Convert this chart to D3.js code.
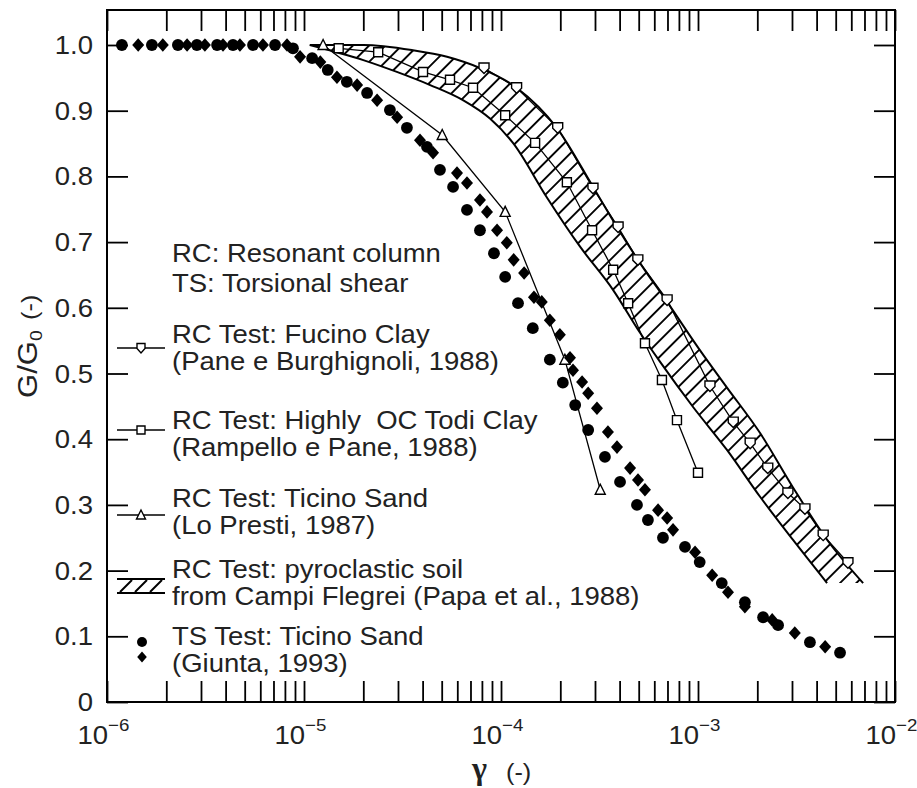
<!DOCTYPE html>
<html><head><meta charset="utf-8">
<script src="https://cdn.jsdelivr.net/npm/d3@7"></script>
<style>body{margin:0;background:#fff}svg{display:block}</style>
</head><body><div id="chart"></div>
<script>
// ---------- data ----------
const yTickValues = [0,0.1,0.2,0.3,0.4,0.5,0.6,0.7,0.8,0.9,1.0];
const yTickLabels = ["0","0.1","0.2","0.3","0.4","0.5","0.6","0.7","0.8","0.9","1.0"];
const xDecadeValues = [1e-6,1e-5,1e-4,1e-3,1e-2];
const xDecadeExponents = ["\u22126","\u22125","\u22124","\u22123","\u22122"];

// hatched band: RC pyroclastic soil (Campi Flegrei)
const bandUpper = [[1.07e-5,1.0],[2.0e-5,1.0],[3.57e-5,0.992],[5.32e-5,0.982],[7.8e-5,0.965],[1.2e-4,0.935],[1.92e-4,0.874],[2.96e-4,0.782],[3.88e-4,0.723],[5.08e-4,0.668],[6.97e-4,0.609],[1.02e-3,0.536],[1.40e-3,0.479],[2.07e-3,0.409],[3.03e-3,0.327],[4.52e-3,0.247],[6.89e-3,0.181]];
const bandLower = [[1.07e-5,1.0],[2.0e-5,0.977],[2.96e-5,0.959],[4.37e-5,0.939],[6.41e-5,0.916],[8.79e-5,0.888],[1.15e-4,0.851],[1.71e-4,0.768],[2.52e-4,0.693],[3.71e-4,0.627],[5.08e-4,0.562],[6.41e-4,0.518],[9.44e-4,0.449],[1.40e-3,0.384],[2.07e-3,0.312],[3.03e-3,0.247],[4.52e-3,0.181]];

// RC Fucino Clay
const fucino = [[8.2e-5,0.965],[1.2e-4,0.935],[1.94e-4,0.874],[2.93e-4,0.782],[3.93e-4,0.723],[4.95e-4,0.673],[6.97e-4,0.612],[1.15e-3,0.481],[1.51e-3,0.426],[1.84e-3,0.394],[2.26e-3,0.356],[2.86e-3,0.318],[3.49e-3,0.294],[4.32e-3,0.254],[5.77e-3,0.212]];
// RC Highly OC Todi Clay
const todi = [[1.5e-5,0.995],[2.38e-5,0.989],[4.02e-5,0.959],[5.51e-5,0.947],[7.21e-5,0.935],[1.05e-4,0.893],[1.49e-4,0.851],[2.16e-4,0.791],[2.90e-4,0.718],[3.71e-4,0.658],[4.42e-4,0.607],[5.38e-4,0.546],[6.56e-4,0.490],[7.82e-4,0.429],[1.0e-3,0.349]];
// RC Ticino Sand
const ticinoRC = [[1.25e-5,1.0],[5.03e-5,0.863],[1.05e-4,0.746],[2.11e-4,0.521],[3.19e-4,0.323]];
// TS Ticino Sand (two symbols)
const tsCircles = [[1.19e-6,1.0],[1.69e-6,1.0],[2.29e-6,1.0],[2.86e-6,1.0],[3.62e-6,1.0],[4.36e-6,1.0],[5.51e-6,1.0],[7.13e-6,1.0],[8.79e-6,0.995],[1.10e-5,0.980],[1.32e-5,0.962],[1.65e-5,0.944],[2.09e-5,0.927],[2.73e-5,0.901],[3.33e-5,0.874],[4.21e-5,0.845],[4.90e-5,0.810],[5.71e-5,0.784],[6.72e-5,0.749],[7.82e-5,0.718],[9.21e-5,0.683],[1.05e-4,0.647],[1.22e-4,0.607],[1.45e-4,0.569],[1.77e-4,0.521],[2.06e-4,0.486],[2.38e-4,0.452],[2.77e-4,0.414],[3.37e-4,0.373],[4.02e-4,0.335],[4.90e-4,0.300],[5.57e-4,0.277],[6.64e-4,0.250],[8.59e-4,0.236],[1.02e-3,0.213],[1.32e-3,0.181],[1.73e-3,0.152],[2.14e-3,0.129],[2.55e-3,0.117],[3.70e-3,0.091],[5.26e-3,0.075]];
const tsDiamonds = [[1.44e-6,1.0],[1.92e-6,1.0],[2.55e-6,1.0],[3.14e-6,1.0],[3.88e-6,1.0],[4.73e-6,1.0],[6.19e-6,1.0],[8.2e-6,1.0],[9.55e-6,0.982],[1.21e-5,0.974],[1.47e-5,0.951],[1.86e-5,0.939],[2.35e-5,0.916],[2.97e-5,0.890],[3.88e-5,0.855],[4.52e-5,0.836],[5.98e-5,0.805],[6.72e-5,0.790],[7.82e-5,0.764],[8.49e-5,0.746],[9.55e-5,0.718],[1.07e-4,0.699],[1.16e-4,0.673],[1.31e-4,0.653],[1.47e-4,0.616],[1.61e-4,0.609],[1.77e-4,0.581],[1.99e-4,0.559],[2.24e-4,0.524],[2.32e-4,0.505],[2.58e-4,0.487],[2.77e-4,0.470],[3.07e-4,0.447],[3.49e-4,0.411],[3.88e-4,0.388],[4.52e-4,0.356],[4.96e-4,0.338],[5.38e-4,0.323],[6.27e-4,0.292],[6.97e-4,0.280],[7.47e-4,0.262],[9.66e-4,0.228],[1.18e-3,0.193],[1.42e-3,0.167],[1.73e-3,0.145],[2.38e-3,0.125],[3.10e-3,0.105],[4.42e-3,0.084]];

const legendHeader = ["RC: Resonant column","TS: Torsional shear"];
const legendEntries = [
  {key:"fucino", lines:["RC Test: Fucino Clay","(Pane e Burghignoli, 1988)"]},
  {key:"todi", lines:["RC Test: Highly  OC Todi Clay","(Rampello e Pane, 1988)"]},
  {key:"ticino", lines:["RC Test: Ticino Sand","(Lo Presti, 1987)"]},
  {key:"band", lines:["RC Test: pyroclastic soil","from Campi Flegrei (Papa et al., 1988)"]},
  {key:"ts", lines:["TS Test: Ticino Sand","(Giunta, 1993)"]}
];

// ---------- layout ----------
const W = 917, H = 788;
const L = 107, R = 895, T = 10, B = 702;
const FONT = "'Liberation Sans', Arial, Helvetica, sans-serif";
const TXT = "#222";
const FS = 25, SX = 1.1;

const svg = d3.select("#chart").append("svg").attr("width",W).attr("height",H)
  .style("background","#fff");
svg.append("rect").attr("width",W).attr("height",H).attr("fill","#fff");

const x = d3.scaleLog().domain([1e-6,1e-2]).range([L,R]);
const y = d3.scaleLinear().domain([0,1]).range([B,45]);

const defs = svg.append("defs");
const pat = defs.append("pattern").attr("id","hatch").attr("patternUnits","userSpaceOnUse")
  .attr("width",11.5).attr("height",11.5).attr("patternTransform","rotate(45)");
pat.append("line").attr("x1",5.75).attr("y1",-1).attr("x2",5.75).attr("y2",12.5)
  .attr("stroke","#000").attr("stroke-width",1.9);

// ---------- axes (ticks inward) ----------
const minorX = [];
for (let e=-6;e<=-3;e++) for (let m=1;m<=9;m++) minorX.push(m*Math.pow(10,e));
minorX.push(1e-2);
const tickLen = 21;
function styleAxis(g){
  g.select(".domain").remove();
  g.selectAll(".tick line").attr("stroke","#000").attr("stroke-width",1.8);
  g.selectAll(".tick text").remove();
}
svg.append("g").attr("transform",`translate(0,${B})`)
  .call(d3.axisBottom(x).tickValues(minorX).tickSize(-tickLen).tickFormat("")).call(styleAxis);
svg.append("g").attr("transform",`translate(0,${T})`)
  .call(d3.axisTop(x).tickValues(minorX).tickSize(-tickLen).tickFormat("")).call(styleAxis);
svg.append("g").attr("transform",`translate(${L},0)`)
  .call(d3.axisLeft(y).tickValues(yTickValues).tickSize(-tickLen).tickFormat("")).call(styleAxis);
svg.append("g").attr("transform",`translate(${R},0)`)
  .call(d3.axisRight(y).tickValues(yTickValues).tickSize(-tickLen).tickFormat("")).call(styleAxis);

// y tick labels
yTickValues.forEach((v,i)=>{
  svg.append("text").attr("transform",`translate(93,${y(v)+9}) scale(${SX},1)`)
    .attr("text-anchor","end").attr("font-family",FONT).attr("font-size",FS).attr("fill",TXT)
    .text(yTickLabels[i]);
});
// x tick labels 10^n
xDecadeValues.forEach((v,i)=>{
  const px = x(v);
  svg.append("text").attr("transform",`translate(${px+1},744) scale(${SX},1)`)
    .attr("text-anchor","end").attr("font-family",FONT).attr("font-size",FS).attr("fill",TXT).text("10");
  svg.append("text").attr("transform",`translate(${px+1},731) scale(${SX},1)`)
    .attr("text-anchor","start").attr("font-family",FONT).attr("font-size",17).attr("fill",TXT)
    .text(xDecadeExponents[i]);
});

// axis titles
svg.append("text").attr("x",472).attr("y",779).attr("fill",TXT)
  .attr("font-family","'Liberation Serif','Times New Roman',serif")
  .attr("font-size",32).attr("font-weight","bold").text("\u03b3");
svg.append("text").attr("transform","translate(506,780) scale(1.1,1)").attr("fill",TXT)
  .attr("font-family",FONT).attr("font-size",23).text("(-)");

const yt = svg.append("text").attr("transform","translate(37,398) rotate(-90) scale(1.15,1)")
  .attr("font-family",FONT).attr("font-size",27).attr("fill",TXT);
yt.append("tspan").text("G/G");
yt.append("tspan").attr("font-size",17).attr("dy",5).text("0");
yt.append("tspan").attr("font-size",22).attr("dy",-5).attr("dx",9).text("(-)");

// ---------- band ----------
const line = d3.line().x(d=>x(d[0])).y(d=>y(d[1]));
const smooth = d3.line().x(d=>x(d[0])).y(d=>y(d[1])).curve(d3.curveMonotoneX);
const lowerRev = bandLower.slice().reverse();
const bandPath = smooth(bandUpper) + "L" + smooth(lowerRev).slice(1) + "Z";
svg.append("path").attr("d",bandPath).attr("fill","url(#hatch)").attr("stroke","none");
svg.append("path").attr("d",smooth(bandUpper)).attr("fill","none").attr("stroke","#000").attr("stroke-width",2);
svg.append("path").attr("d",smooth(bandLower)).attr("fill","none").attr("stroke","#000").attr("stroke-width",2);

// frame
svg.append("rect").attr("x",L).attr("y",T).attr("width",R-L).attr("height",B-T)
  .attr("fill","none").attr("stroke","#000").attr("stroke-width",2);

// ---------- series ----------
const shapes = {
  pent: "M-5,-5L5,-5L5,0.5L0,5.5L-5,0.5Z",
  square: "M-4.5,-4.5L4.5,-4.5L4.5,4.5L-4.5,4.5Z",
  tri: "M0,-5.5L5,4.5L-5,4.5Z",
  diamond: "M0,-6.8L6,0L0,6.8L-6,0Z",
  lpent: "M-4,-4.5L4,-4.5L4,0.5L0,5L-4,0.5Z",
  lsquare: "M-4,-4L4,-4L4,4L-4,4Z",
  ltri: "M0,-5L4.5,4L-4.5,4Z"
};
function series(data, shape){
  svg.append("path").attr("d",line(data)).attr("fill","none").attr("stroke","#000").attr("stroke-width",1.3);
  svg.append("g").selectAll("path").data(data).join("path")
    .attr("transform",d=>`translate(${x(d[0])},${y(d[1])})`)
    .attr("d",shapes[shape]).attr("fill","#fff").attr("stroke","#000").attr("stroke-width",1.4);
}
series(todi,"square");
series(fucino,"pent");
series(ticinoRC,"tri");

svg.append("g").selectAll("circle").data(tsCircles).join("circle")
  .attr("cx",d=>x(d[0])).attr("cy",d=>y(d[1])).attr("r",5.9).attr("fill","#000");
svg.append("g").selectAll("path").data(tsDiamonds).join("path")
  .attr("transform",d=>`translate(${x(d[0])},${y(d[1])})`).attr("d",shapes.diamond).attr("fill","#000");

// ---------- legend ----------
function ltext(str, bx, by){
  svg.append("text").attr("transform",`translate(${bx},${by}) scale(${SX},1)`)
    .attr("font-family",FONT).attr("font-size",FS).attr("fill",TXT)
    .style("white-space","pre").attr("xml:space","preserve").text(str);
}
ltext(legendHeader[0],172,262);
ltext(legendHeader[1],172,292);
const entryBase = [343,429,507,578,645];
const symY = [348,430,515,586,650];
legendEntries.forEach((e,i)=>{
  ltext(e.lines[0],172,entryBase[i]);
  ltext(e.lines[1],172,entryBase[i]+27);
  const sy = symY[i];
  const lg = svg.append("g");
  if (e.key==="fucino"||e.key==="todi"||e.key==="ticino"){
    lg.append("line").attr("x1",117).attr("x2",165).attr("y1",sy).attr("y2",sy).attr("stroke","#000").attr("stroke-width",1.5);
    const shp = e.key==="fucino"?"lpent":(e.key==="todi"?"lsquare":"ltri");
    lg.append("path").attr("transform",`translate(141,${sy})`).attr("d",shapes[shp])
      .attr("fill","#fff").attr("stroke","#000").attr("stroke-width",1.4);
  } else if (e.key==="band"){
    lg.append("line").attr("x1",117).attr("x2",165).attr("y1",579).attr("y2",579).attr("stroke","#000").attr("stroke-width",2);
    lg.append("line").attr("x1",117).attr("x2",165).attr("y1",593).attr("y2",593).attr("stroke","#000").attr("stroke-width",2);
    [0,1,2].forEach(k=>{
      lg.append("line").attr("x1",120+k*15).attr("y1",592).attr("x2",132+k*15).attr("y2",580)
        .attr("stroke","#000").attr("stroke-width",2);
    });
  } else {
    lg.append("circle").attr("cx",142).attr("cy",642).attr("r",5).attr("fill","#000");
    lg.append("path").attr("transform","translate(142,657) scale(0.8)").attr("d",shapes.diamond).attr("fill","#000");
  }
});
</script>
</body></html>
